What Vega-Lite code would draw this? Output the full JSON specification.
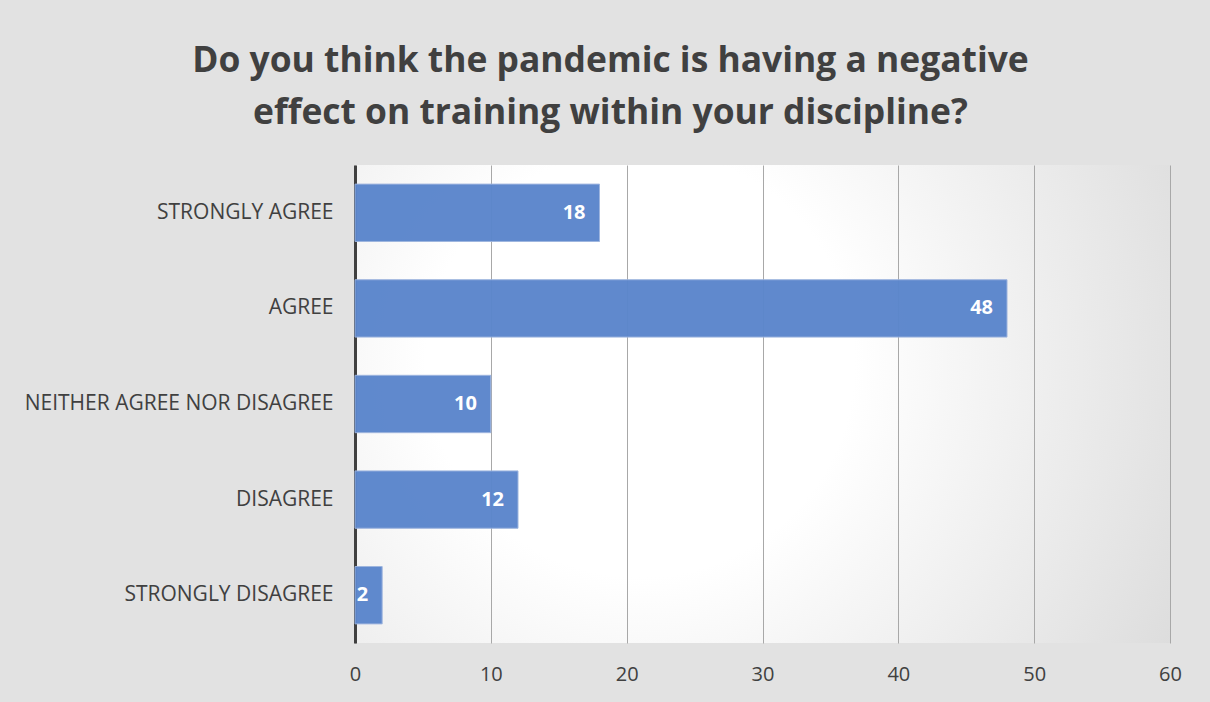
{
  "$schema": "https://vega.github.io/schema/vega-lite/v6.json",
  "width": 815,
  "height": 478,
  "autosize": {"type": "none"},
  "padding": {"left": 355, "top": 165, "right": 40, "bottom": 59},
  "background": "#e2e2e2",
  "title": {
    "text": ["Do you think the pandemic is having a negative", "effect on training within your discipline?"],
    "font": "Open Sans",
    "fontSize": 35.4,
    "fontWeight": "bold",
    "color": "#404040",
    "lineHeight": 52,
    "anchor": "middle",
    "frame": "group",
    "dx": -152,
    "offset": 34
  },
  "config": {
    "view": {
      "stroke": null,
      "fill": {
        "gradient": "radial",
        "x1": 0.35, "y1": 0.45, "r1": 0,
        "x2": 0.35, "y2": 0.45, "r2": 0.75,
        "stops": [
          {"offset": 0, "color": "#ffffff"},
          {"offset": 0.35, "color": "#ffffff"},
          {"offset": 1, "color": "#dcdcdc"}
        ]
      }
    },
    "axis": {"labelFont": "Open Sans", "labelColor": "#404040"}
  },
  "data": {
    "values": [
      {"response": "STRONGLY AGREE", "count": 18},
      {"response": "AGREE", "count": 48},
      {"response": "NEITHER AGREE NOR DISAGREE", "count": 10},
      {"response": "DISAGREE", "count": 12},
      {"response": "STRONGLY DISAGREE", "count": 2}
    ]
  },
  "encoding": {
    "y": {
      "field": "response",
      "type": "nominal",
      "sort": null,
      "title": null,
      "scale": {"paddingInner": 0.4, "paddingOuter": 0.2},
      "axis": {
        "ticks": false,
        "labelFontSize": 21,
        "labelLimit": 400,
        "labelPadding": 22,
        "domainColor": "#404040",
        "domainWidth": 3,
        "grid": false
      }
    },
    "x": {
      "field": "count",
      "type": "quantitative",
      "title": null,
      "scale": {"domain": [0, 60], "nice": false},
      "axis": {
        "values": [0, 10, 20, 30, 40, 50, 60],
        "domain": false,
        "ticks": false,
        "grid": true,
        "gridColor": "#a8a8a8",
        "gridWidth": 1,
        "labelFlush": false,
        "labelFontSize": 20,
        "labelPadding": 21
      }
    }
  },
  "layer": [
    {
      "mark": {"type": "bar", "color": "#5b86cc", "stroke": "#9bb3de", "strokeWidth": 1, "opacity": 0.97}
    },
    {
      "mark": {"type": "text", "align": "right", "dx": -14, "color": "#ffffff", "font": "Open Sans", "fontWeight": "bold", "fontSize": 20, "baseline": "middle"},
      "encoding": {"text": {"field": "count", "type": "quantitative"}}
    }
  ]
}
